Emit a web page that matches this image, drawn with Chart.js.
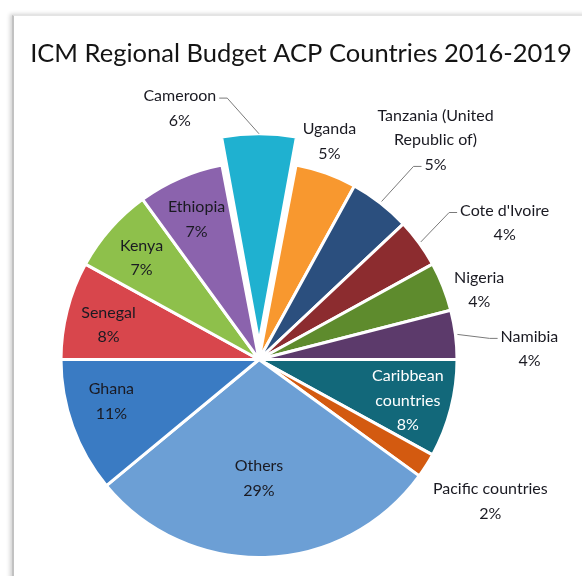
<!DOCTYPE html>
<html><head><meta charset="utf-8">
<script src="https://cdn.jsdelivr.net/npm/chart.js@4.4.1/dist/chart.umd.min.js"></script>
<style>
html,body{margin:0;padding:0;background:#fff;overflow:hidden;width:582px;height:576px;}
#frame{position:absolute;left:12px;top:15px;width:640px;height:640px;border-left:2px solid #c2c2c2;border-top:1px solid #e4e4e4;box-shadow:-2px -1px 4px rgba(0,0,0,0.18);background:#fff;}
#wrap{position:absolute;left:0;top:0;width:582px;height:576px;}
</style></head><body>
<div id="frame"></div>
<div id="wrap"><canvas id="c" width="582" height="576"></canvas></div>
<script>
const titleText = 'ICM Regional Budget ACP Countries 2016-2019';
const categories = ['Cameroon','Uganda','Tanzania (United Republic of)',"Cote d'Ivoire",'Nigeria','Namibia','Caribbean countries','Pacific countries','Others','Ghana','Senegal','Kenya','Ethiopia'];
const labelLines = [['Cameroon'],['Uganda'],['Tanzania (United','Republic of)'],["Cote d'Ivoire"],['Nigeria'],['Namibia'],['Caribbean','countries'],['Pacific countries'],['Others'],['Ghana'],['Senegal'],['Kenya'],['Ethiopia']];
const shares = [6,5,5,4,4,4,8,2,29,11,8,7,7];
const colors = ['#1fb1d0','#f8982f','#2b4f7e','#8c2c2f','#5e8b2d','#5c3a6b','#12687a','#d35a10','#6c9fd5','#3a7bc3','#d8464c','#8ec04b','#8b63ad'];
const explode = [68,0,0,0,0,0,0,0,0,0,0,0,0];

// label placement: radius factor, angle nudge (deg), leader line
const placement = [
  {r:1.33, da:-17.5, leader:{line:0, side:'right'}},
  {r:1.157, da:-1.9},
  {r:1.423, da:1.0, leader:{line:2, side:'left'}},
  {r:1.42, da:6.9, leader:{line:0, side:'left'}},
  {r:1.166, da:4.1},
  {r:1.367, da:4.9, leader:{line:0, side:'left'}},
  {r:0.78, da:1.0, color:'#ffffff'},
  {r:1.37, da:-0.9},
  {r:0.6, da:1.8},
  {r:0.775, da:4.0},
  {r:0.78, da:-1.4},
  {r:0.785, da:-0.5},
  {r:0.775, da:-0.6}
];
const LABEL_FONT = '16px Lato';
const TITLE_FONT = '25.5px Lato';
const TEXT = '#1a1a22';
const LH = 24.5;

const titlePlugin = {
  id:'customTitle',
  afterDraw(chart){
    const ctx = chart.ctx;
    ctx.save();
    ctx.font = TITLE_FONT;
    ctx.fillStyle = '#141414';
    ctx.textAlign = 'center';
    ctx.textBaseline = 'alphabetic';
    ctx.fillText(titleText, 301, 62);
    ctx.restore();
  }
};

const labelPlugin = {
  id:'sliceLabels',
  afterDatasetsDraw(chart){
    const ctx = chart.ctx;
    const meta = chart.getDatasetMeta(0);
    ctx.save();
    ctx.font = LABEL_FONT;
    ctx.textAlign = 'center';
    ctx.textBaseline = 'middle';
    meta.data.forEach((arc, i) => {
      const pr = arc.getProps(['x','y','startAngle','endAngle','outerRadius','circumference'], true);
      const mid = (pr.startAngle + pr.endAngle) / 2;
      const p = placement[i];
      const a = mid + p.da * Math.PI / 180;
      const cx = pr.x + Math.cos(a) * pr.outerRadius * p.r;
      const cy = pr.y + Math.sin(a) * pr.outerRadius * p.r;
      const lines = [...labelLines[i], shares[i] + '%'];
      const top = cy - (lines.length - 1) * LH / 2;
      ctx.fillStyle = p.color || TEXT;
      lines.forEach((t, k) => ctx.fillText(t, cx, top + k * LH));
      if (p.leader) {
        const ly = top + p.leader.line * LH + 2;
        const w = ctx.measureText(lines[p.leader.line]).width;
        const sgn = p.leader.side === 'right' ? 1 : -1;
        const ax = cx + sgn * (w / 2 + 3);
        const ex = ax + sgn * 8;
        const off = (explode[i] || 0) / 4;
        const fix = 1 - Math.sin(Math.min(Math.PI, pr.circumference));
        const rr = pr.outerRadius + (off ? off + off * fix : 2);
        const sx = pr.x + Math.cos(mid) * rr;
        const sy = pr.y + Math.sin(mid) * rr;
        ctx.strokeStyle = '#7a7a7a';
        ctx.lineWidth = 1;
        ctx.beginPath();
        ctx.moveTo(ax, ly);
        ctx.lineTo(ex, ly);
        ctx.lineTo(sx, sy);
        ctx.stroke();
      }
    });
    ctx.restore();
  }
};

new Chart(document.getElementById('c'), {
  type:'pie',
  data:{
    labels: categories,
    datasets:[{
      data: shares,
      backgroundColor: colors,
      borderColor:'#ffffff',
      borderWidth:3,
      offset: explode
    }]
  },
  options:{
    responsive:false,
    animation:false,
    rotation:-10.8,
    radius:198,
    layout:{padding:{left:0,right:64,top:143,bottom:0}},
    plugins:{legend:{display:false}, tooltip:{enabled:false}, title:{display:false}}
  },
  plugins:[labelPlugin, titlePlugin]
});
</script>
</body></html>
